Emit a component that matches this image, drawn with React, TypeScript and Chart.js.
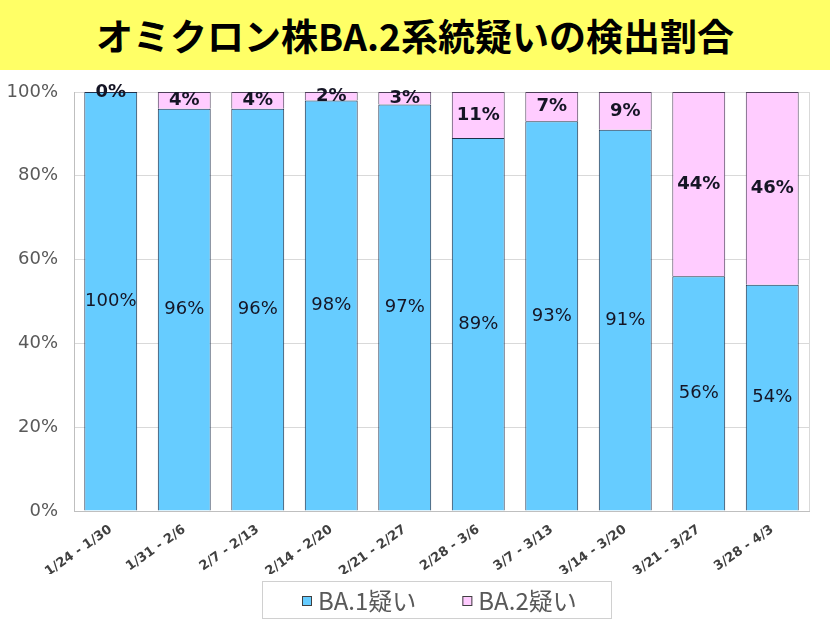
import React, { useEffect, useRef } from "react";
import { Chart, registerables } from "chart.js";

Chart.register(...registerables);

const TITLE = "オミクロン株BA.2系統疑いの検出割合";
const categories = [
  "1/24 - 1/30",
  "1/31 - 2/6",
  "2/7 - 2/13",
  "2/14 - 2/20",
  "2/21 - 2/27",
  "2/28 - 3/6",
  "3/7 - 3/13",
  "3/14 - 3/20",
  "3/21 - 3/27",
  "3/28 - 4/3",
];
const ba1Values = [100, 96, 96, 98, 97, 89, 93, 91, 56, 54];
const ba2Values = [0, 4, 4, 2, 3, 11, 7, 9, 44, 46];
const seriesNames = ["BA.1疑い", "BA.2疑い"];
const yTicks = [0, 20, 40, 60, 80, 100];

const FONT = "'Noto Sans CJK JP', 'Noto Sans', sans-serif";
const NUMFONT = "'DejaVu Sans', 'Noto Sans', sans-serif";

const segmentLabels = {
  id: "segmentLabels",
  afterDatasetsDraw(chart: any) {
    const ctx = chart.ctx;
    ctx.save();
    ctx.textAlign = "center";
    ctx.textBaseline = "middle";
    chart.data.datasets.forEach((ds: any, di: number) => {
      const meta = chart.getDatasetMeta(di);
      ctx.font = (di === 1 ? "bold " : "") + "18px " + NUMFONT;
      ctx.fillStyle = "#151525";
      meta.data.forEach((el: any, i: number) => {
        const p = el.getProps(["x", "y", "base"], true);
        const cy = (p.y + p.base) / 2;
        ctx.fillText(ds.data[i] + "%", p.x, cy);
      });
    });
    ctx.restore();
  },
};

// Boxed legend drawn below the axis labels
const boxedLegend = {
  id: "boxedLegend",
  afterDraw(chart: any) {
    const ctx = chart.ctx;
    const a = chart.chartArea;
    const sets = chart.data.datasets;
    ctx.save();
    ctx.font = "24px " + FONT;
    const widths = sets.map((ds: any) => ctx.measureText(ds.label).width);
    const padL = 40, padR = 34, marker = 10, gap = 6, itemGap = 46;
    let W = padL + padR;
    widths.forEach((w: number, i: number) => {
      W += marker + gap + w + (i > 0 ? itemGap : 0);
    });
    const cx = (a.left + a.right) / 2 - 5;
    const left = Math.round(cx - W / 2);
    const top = a.bottom + 70;
    const h = 37;
    ctx.strokeStyle = "#D0D0D0";
    ctx.lineWidth = 1;
    ctx.strokeRect(left + 0.5, top + 0.5, Math.round(W), h);
    const midY = top + h / 2 + 1;
    let x = left + padL;
    sets.forEach((ds: any, i: number) => {
      ctx.fillStyle = ds.backgroundColor;
      ctx.fillRect(x, Math.round(midY - 5), marker, marker);
      ctx.strokeStyle = "#404040";
      ctx.strokeRect(x + 0.5, Math.round(midY - 5) + 0.5, marker - 1, marker - 1);
      x += marker + gap;
      ctx.fillStyle = "#595959";
      ctx.textAlign = "left";
      ctx.textBaseline = "middle";
      ctx.fillText(ds.label, x, midY);
      x += widths[i] + itemGap;
    });
    ctx.restore();
  },
};

const rightBorder = {
  id: "rightBorder",
  beforeDatasetsDraw(chart: any) {
    const a = chart.chartArea;
    const ctx = chart.ctx;
    ctx.save();
    ctx.strokeStyle = "#D9D9D9";
    ctx.beginPath();
    ctx.moveTo(Math.round(a.right) + 0.5, a.top);
    ctx.lineTo(Math.round(a.right) + 0.5, a.bottom);
    ctx.stroke();
    ctx.restore();
  },
};

export default function App() {
  const ref = useRef<HTMLCanvasElement | null>(null);

  useEffect(() => {
    if (!ref.current) return;
    const chart = new Chart(ref.current, {
      type: "bar",
      data: {
        labels: categories,
        datasets: [
          {
            label: seriesNames[0],
            data: ba1Values,
            backgroundColor: "#66CCFF",
            borderColor: "#1F2F4A",
            borderWidth: 1,
            categoryPercentage: 0.72,
            barPercentage: 1,
          },
          {
            label: seriesNames[1],
            data: ba2Values,
            backgroundColor: "#FFCCFF",
            borderColor: "#4E3E5A",
            borderWidth: 1,
            categoryPercentage: 0.72,
            barPercentage: 1,
          },
        ],
      },
      options: {
        animation: false,
        responsive: false,
        maintainAspectRatio: false,
        layout: { padding: { top: 22, right: 21, bottom: 49, left: 0 } },
        plugins: {
          tooltip: { enabled: false },
          legend: { display: false },
        },
        scales: {
          x: {
            stacked: true,
            grid: { display: false },
            border: { color: "#BFBFBF" },
            ticks: {
              maxRotation: 35,
              minRotation: 35,
              color: "#404040",
              font: { family: NUMFONT, size: 13, weight: "bold" },
              padding: 3,
            },
            afterFit(scale: any) {
              scale.height = 63;
              scale.paddingLeft = 0;
              scale.paddingRight = 0;
            },
          },
          y: {
            stacked: true,
            min: 0,
            max: 100,
            afterBuildTicks(scale: any) {
              scale.ticks = yTicks.map((v) => ({ value: v }));
            },
            grid: { color: "#D9D9D9", drawTicks: false },
            border: { color: "#BFBFBF" },
            ticks: {
              color: "#595959",
              font: { family: NUMFONT, size: 18 },
              padding: 16,
              callback: (v: any) => v + "%",
            },
            afterFit(scale: any) {
              scale.width = 74;
              scale.paddingTop = 0;
              scale.paddingBottom = 0;
            },
          },
        },
      },
      plugins: [segmentLabels, boxedLegend, rightBorder],
    } as any);
    return () => chart.destroy();
  }, []);

  return (
    <div style={{ position: "absolute", left: 0, top: 0, width: 830, height: 623, background: "#fff" }}>
      <div
        style={{
          position: "absolute",
          left: 0,
          top: 0,
          width: 830,
          height: 70,
          background: "#FFFF66",
          display: "flex",
          alignItems: "center",
          justifyContent: "center",
          fontFamily: FONT,
          fontWeight: "bold",
          fontSize: 37,
          color: "#000",
        }}
      >
        {TITLE}
      </div>
      <canvas ref={ref} width={830} height={553} style={{ position: "absolute", left: 0, top: 70, display: "block" }} />
    </div>
  );
}
